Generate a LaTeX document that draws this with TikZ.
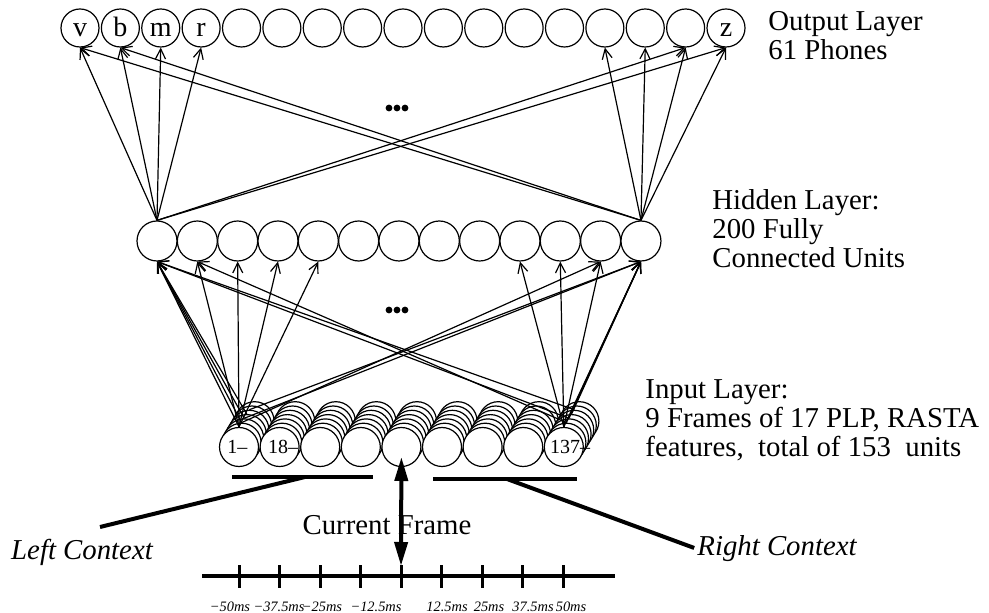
\documentclass[tikz,border=0pt]{standalone}
\usepackage{fontspec}
\setmainfont{Liberation Serif}
\usetikzlibrary{arrows.meta}
\tikzset{
  >={Straight Barb[length=5pt,width=5pt]},
  unit/.style={draw=black, line width=0.6pt, circle, inner sep=0pt, fill=white},
  outu/.style={unit, minimum size=19pt, font=\fontsize{14}{14}\selectfont, text height=8.5pt, text depth=0pt},
  hidu/.style={unit, minimum size=20pt},
  inu/.style={unit, minimum size=19.5pt},
  wire/.style={draw=black, line width=0.6pt, ->},
  bar/.style={draw=black, line width=2pt},
  txt/.style={font=\fontsize{14.4}{14.5}\selectfont, align=left, inner sep=0pt},
  ctx/.style={font=\fontsize{14.4}{14.5}\selectfont\itshape, inner sep=0pt},
  idx/.style={font=\fontsize{10}{10}\selectfont, inner sep=0pt},
  ms/.style={font=\fontsize{7.2}{7.2}\selectfont\itshape, inner sep=0pt},
}
\begin{document}
\begin{tikzpicture}[x=0.5pt,y=-0.5pt]
\useasboundingbox (0,0) rectangle (989,613);
% unit spacing of the three layers (px); stack offset of input units
\def\os{40.375}
\def\hs{40.33}
\def\is{40.6}
\def\dx{2.6}
\def\dy{4.3}
% output layer
\foreach \i/\t in {1/v,2/b,3/m,4/r,5/{},6/{},7/{},8/{},9/{},10/{},11/{},12/{},13/{},14/{},15/{},16/{},17/z}
  \node[outu] (o\i) at ({80+(\i-1)*\os},28) {\t};
% hidden layer
\foreach \i in {1,...,13}
  \node[hidu] (h\i) at ({157+(\i-1)*\hs},241) {};
% input layer: 9 frames, each a stack of units, back to front
\foreach \k in {6,5,...,0}
  \foreach \i in {1,...,9}
    \node[inu] (in\i-\k) at ({239+(\i-1)*\is+\k*\dx},{447-\k*\dy}) {};
\node[idx, anchor=west] (n1) at ([xshift=-6pt]in1-0.center) {1--};
\node[idx, anchor=west] (n18) at ([xshift=-6pt]in2-0.center) {18--};
\node[idx, anchor=west] (n137) at ([xshift=-7pt]in9-0.center) {137--};
% hidden -> output
\foreach \j in {1,2,3,4,16,17} \draw[wire] (h1.north) -- (o\j.south);
\foreach \j in {1,2,14,15,16,17} \draw[wire] (h13.north) -- (o\j.south);
% input -> hidden
\foreach \k in {0,1,2,3} \draw[wire] (in1-\k.north) -- (h1.south);
\foreach \j in {2,3,4,5} \draw[wire] (in1-0.north) -- (h\j.south);
\draw[wire] (in1-1.north) -- (h12.south);
\foreach \k in {2,4} \draw[wire] (in1-\k.north) -- (h13.south);
\foreach \k in {0,1,2,3} \draw[wire] (in9-\k.north) -- (h13.south);
\foreach \j in {10,11,12} \draw[wire] (in9-0.north) -- (h\j.south);
\draw[wire] (in9-1.north) -- (h2.south);
\foreach \k in {2,4} \draw[wire] (in9-\k.north) -- (h1.south);
% more units
\foreach \d in {-8,0,8}{
  \fill (397+\d,108) circle (1.7pt);
  \fill (397+\d,310) circle (1.7pt);
}
% layer texts
\node[txt, anchor=base west] (otxt) at (768,60) {Output Layer\\61 Phones};
\node[txt, anchor=base west] (htxt) at (712,268) {Hidden Layer:\\200 Fully\\Connected Units};
\node[txt, anchor=base west] (itxt) at (645,457) {Input Layer:\\9 Frames of 17 PLP, RASTA\\features,\ \ total of 153\ \ units};
% context bars
\coordinate (lb1) at (232,477);
\coordinate (lb2) at (373,477);
\coordinate (rb1) at (433,479);
\coordinate (rb2) at (577,479);
\draw[bar] (lb1) -- (lb2);
\draw[bar] (rb1) -- (rb2);
\node[ctx] (lctx) at (82,552) {Left Context};
\node[ctx, anchor=west] (rctx) at (697,549) {Right Context};
\coordinate (lc) at (305,477);
\coordinate (lend) at (100,527);
\coordinate (rc) at (507,479);
\draw[bar] (lc) -- (lend);
\draw[bar, shorten >=1.5pt] (rc) -- (rctx.west);
% time axis
\coordinate (t0) at (202,576);
\coordinate (t1) at (615,576);
\draw[line width=1.6pt] (t0) -- (t1);
\foreach \i in {1,...,9}{
  \coordinate (tk\i) at ({239+(\i-1)*40.5},576);
  \draw[line width=1.5pt] ([yshift=5.5pt]tk\i) -- ([yshift=-6pt]tk\i);
}
\foreach \x/\t in {230/−50ms,279/−37.5ms,322/−25ms,376/−12.5ms,447/12.5ms,489/25ms,533/37.5ms,571/50ms}
  \node[ms] (lab\x) at (\x,607) {\t};
% current frame
\draw[bar, {Triangle[length=12pt,width=6.5pt]}-{Triangle[length=12pt,width=6.5pt]}] ([yshift=-5pt]in5-0.center) -- ([yshift=5pt]tk5);
\node[txt] (cur) at (387,525) {Current Frame};
\end{tikzpicture}
\end{document}
